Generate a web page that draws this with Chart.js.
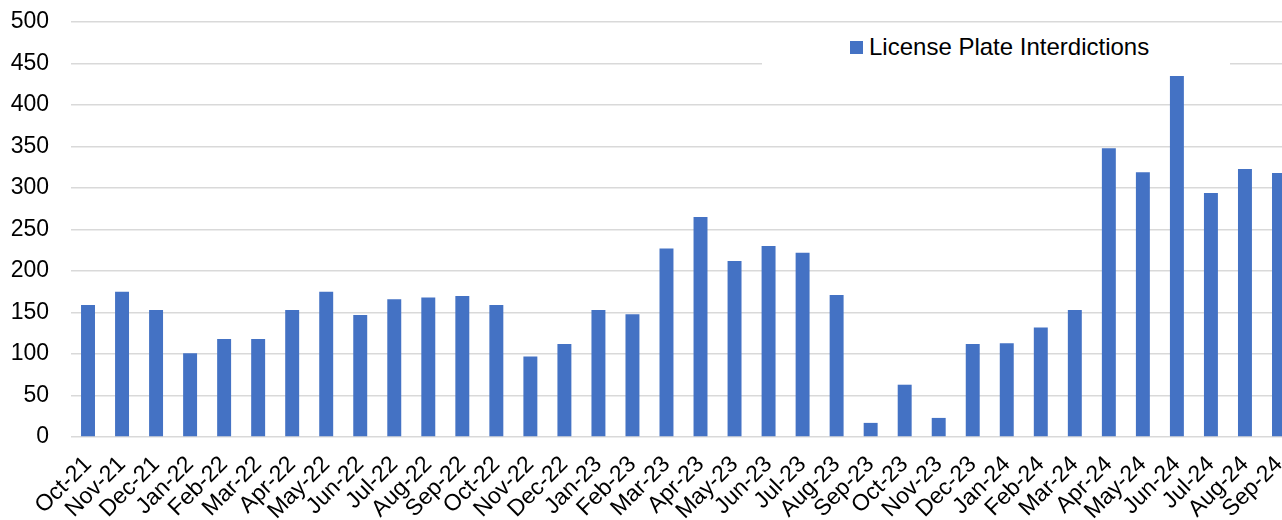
<!DOCTYPE html>
<html>
<head>
<meta charset="utf-8">
<script src="https://cdn.jsdelivr.net/npm/chart.js@4"></script>
<style>
  html, body { margin: 0; padding: 0; background: #fff; overflow: hidden; }
  #wrap { position: relative; width: 1296px; height: 520px; }
  #legend {
    position: absolute; left: 762px; top: 28px; width: 468px; height: 40px;
    background: #fff; font-family: "Liberation Sans", Arial, sans-serif; font-size: 24px; color: #000;
  }
  #legend .box { position: absolute; left: 88px; top: 13px; width: 13px; height: 13px; background: #4472c4; }
  #legend .txt { position: absolute; left: 107px; top: 5px; white-space: nowrap; line-height: 28px; }
</style>
</head>
<body>
<div id="wrap">
  <canvas id="myChart" width="1296" height="520"></canvas>
  <div id="legend"><span class="box"></span><span class="txt">License Plate Interdictions</span></div>
</div>
<script>
const months = ['Oct-21', 'Nov-21', 'Dec-21', 'Jan-22', 'Feb-22', 'Mar-22', 'Apr-22', 'May-22', 'Jun-22',
    'Jul-22', 'Aug-22', 'Sep-22', 'Oct-22', 'Nov-22', 'Dec-22', 'Jan-23', 'Feb-23', 'Mar-23',
    'Apr-23', 'May-23', 'Jun-23', 'Jul-23', 'Aug-23', 'Sep-23', 'Oct-23', 'Nov-23', 'Dec-23',
    'Jan-24', 'Feb-24', 'Mar-24', 'Apr-24', 'May-24', 'Jun-24', 'Jul-24', 'Aug-24', 'Sep-24'];
const interdictions = [159, 175, 153, 101, 118, 118, 153, 175, 147,
    166, 168, 170, 159, 97, 112, 153, 148, 227,
    265, 212, 230, 222, 171, 17, 63, 23, 112,
    113, 132, 153, 348, 319, 435, 294, 323, 318];
const seriesName = 'License Plate Interdictions';

const font = { family: '"Liberation Sans", Arial, sans-serif', size: 23 };

const data = {
    labels: months,
    datasets: [{
        label: seriesName,
        backgroundColor: '#4472c4',
        data: interdictions,
        barPercentage: 0.41,
        categoryPercentage: 1.0
    }]
};

const config = {
    type: 'bar',
    data: data,
    options: {
        responsive: false,
        animation: false,
        layout: { padding: { top: 22, right: 0, left: 0, bottom: 0 } },
        plugins: {
            legend: { display: false },
            tooltip: { enabled: false }
        },
        scales: {
            x: {
                grid: { display: false, drawTicks: false },
                border: { display: false },
                ticks: { color: '#000', font: font, minRotation: 45, maxRotation: 45, padding: 14, autoSkip: false },
                afterFit: (scale) => {
                    scale.height = 83;
                    scale.paddingLeft = 0;
                    scale.paddingRight = 0;
                }
            },
            y: {
                min: 0,
                max: 500,
                grid: { color: '#d9d9d9', lineWidth: 1.5, drawTicks: false },
                border: { display: false },
                ticks: { color: '#000', font: font, stepSize: 50, padding: 22 },
                afterFit: (scale) => {
                    scale.width = 71;
                    scale.paddingTop = 0;
                    scale.paddingBottom = 0;
                }
            }
        }
    }
};

var myChart = new Chart(document.getElementById('myChart'), config);
</script>
</body>
</html>
